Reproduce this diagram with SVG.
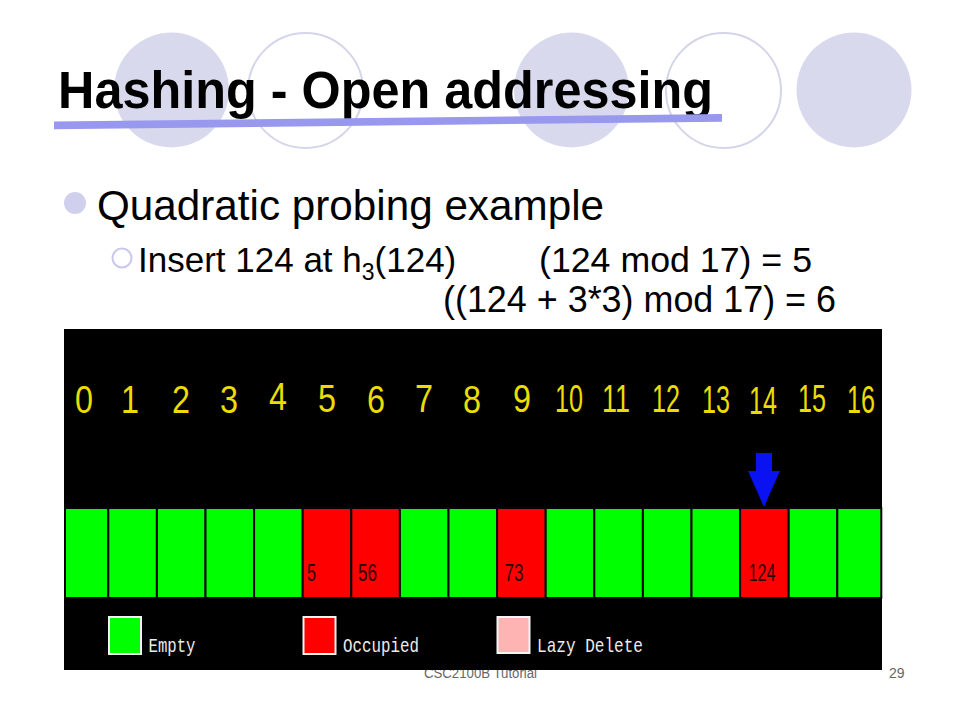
<svg xmlns="http://www.w3.org/2000/svg" width="960" height="720" viewBox="0 0 960 720">
<style>
.cf{fill:#d9d9ee}
.co{fill:#ffffff;stroke:#d4d4ea;stroke-width:2}
.title{font-family:"Liberation Sans",Arial,sans-serif;font-weight:bold;font-size:51px;fill:#000}
.body{font-family:"Liberation Sans",Arial,sans-serif;fill:#000}
.idx{font-family:"Liberation Sans",Arial,sans-serif;font-size:38px;fill:#ecdc00}
.cell rect{stroke:#050505;stroke-width:2}
.g{fill:#00ff00}
.r{fill:#ff0000}
.val{font-family:"Liberation Sans",Arial,sans-serif;font-size:23px;fill:#2a0000}
.leg{font-family:"Liberation Mono","Courier New",monospace;font-size:21px;fill:#ececec}
.legbox{stroke:#f4f4f4;stroke-width:2}
.foot{font-family:"Liberation Sans",Arial,sans-serif;font-size:14px;fill:#666}
</style>
<rect x="0" y="0" width="960" height="720" fill="#ffffff"/>
<g id="decor">
<circle class="cf" cx="171.5" cy="90" r="57.5"/>
<circle class="co" cx="305.5" cy="90.5" r="57.5"/>
<circle class="cf" cx="571.5" cy="90" r="57.5"/>
<circle class="co" cx="723.5" cy="90.5" r="57.5"/>
<circle class="cf" cx="854" cy="90" r="57.5"/>
</g>
<g id="title">
<text class="title" x="58" y="108" textLength="655" lengthAdjust="spacingAndGlyphs">Hashing - Open addressing</text>
<polygon points="54,121.5 722,114 722,121.7 54,129.2" fill="#9898ee"/>
</g>
<g id="bullets">
<circle cx="75" cy="203" r="11" fill="#d0d0ee"/>
<text class="body" x="97" y="220" font-size="42" textLength="507" lengthAdjust="spacingAndGlyphs">Quadratic probing example</text>
<circle cx="122" cy="258" r="9.5" fill="none" stroke="#c8c8ec" stroke-width="2"/>
<text class="body" x="138" y="272" font-size="35">Insert 124 at h<tspan font-size="23" dy="8">3</tspan><tspan dy="-8">(124)</tspan></text>
<text class="body" x="539" y="272" font-size="35" textLength="273" lengthAdjust="spacingAndGlyphs">(124 mod 17) = 5</text>
<text class="body" x="443" y="312" font-size="36" textLength="393" lengthAdjust="spacingAndGlyphs">((124 + 3*3) mod 17) = 6</text>
</g>
<g id="footer">
<text class="foot" x="424" y="678" textLength="113" lengthAdjust="spacingAndGlyphs">CSC2100B  Tutorial</text>
<text class="foot" x="889" y="678">29</text>
</g>
<g id="panel">
<rect x="64" y="329" width="818" height="341" fill="#000000"/>
</g>
<g id="indices">
<text class="idx" x="75" y="413" textLength="18" lengthAdjust="spacingAndGlyphs">0</text>
<text class="idx" x="121" y="413" textLength="18" lengthAdjust="spacingAndGlyphs">1</text>
<text class="idx" x="172" y="413" textLength="18" lengthAdjust="spacingAndGlyphs">2</text>
<text class="idx" x="220" y="413" textLength="18" lengthAdjust="spacingAndGlyphs">3</text>
<text class="idx" x="269" y="410" textLength="18" lengthAdjust="spacingAndGlyphs">4</text>
<text class="idx" x="318" y="412" textLength="18" lengthAdjust="spacingAndGlyphs">5</text>
<text class="idx" x="367" y="413" textLength="18" lengthAdjust="spacingAndGlyphs">6</text>
<text class="idx" x="415" y="412" textLength="18" lengthAdjust="spacingAndGlyphs">7</text>
<text class="idx" x="463" y="413" textLength="18" lengthAdjust="spacingAndGlyphs">8</text>
<text class="idx" x="513" y="412" textLength="18" lengthAdjust="spacingAndGlyphs">9</text>
<text class="idx" x="555" y="412" textLength="28" lengthAdjust="spacingAndGlyphs">10</text>
<text class="idx" x="602" y="412" textLength="28" lengthAdjust="spacingAndGlyphs">11</text>
<text class="idx" x="652" y="412" textLength="28" lengthAdjust="spacingAndGlyphs">12</text>
<text class="idx" x="702" y="413" textLength="28" lengthAdjust="spacingAndGlyphs">13</text>
<text class="idx" x="749" y="414" textLength="28" lengthAdjust="spacingAndGlyphs">14</text>
<text class="idx" x="798" y="412" textLength="28" lengthAdjust="spacingAndGlyphs">15</text>
<text class="idx" x="847" y="413" textLength="28" lengthAdjust="spacingAndGlyphs">16</text>
</g>
<g id="cells">
<g id="cell0" class="cell"><rect class="g" x="65" y="508" width="43.3" height="90"/></g>
<g id="cell1" class="cell"><rect class="g" x="108.3" y="508" width="48.6" height="90"/></g>
<g id="cell2" class="cell"><rect class="g" x="156.9" y="508" width="48.6" height="90"/></g>
<g id="cell3" class="cell"><rect class="g" x="205.5" y="508" width="48.6" height="90"/></g>
<g id="cell4" class="cell"><rect class="g" x="254.1" y="508" width="48.6" height="90"/></g>
<g id="cell5" class="cell"><rect class="r" x="302.7" y="508" width="48.6" height="90"/><text class="val" x="307" y="581" textLength="9" lengthAdjust="spacingAndGlyphs">5</text></g>
<g id="cell6" class="cell"><rect class="r" x="351.3" y="508" width="48.6" height="90"/><text class="val" x="358" y="581" textLength="19" lengthAdjust="spacingAndGlyphs">56</text></g>
<g id="cell7" class="cell"><rect class="g" x="399.9" y="508" width="48.6" height="90"/></g>
<g id="cell8" class="cell"><rect class="g" x="448.5" y="508" width="48.6" height="90"/></g>
<g id="cell9" class="cell"><rect class="r" x="497.1" y="508" width="48.6" height="90"/><text class="val" x="504.5" y="581" textLength="19" lengthAdjust="spacingAndGlyphs">73</text></g>
<g id="cell10" class="cell"><rect class="g" x="545.7" y="508" width="48.6" height="90"/></g>
<g id="cell11" class="cell"><rect class="g" x="594.3" y="508" width="48.6" height="90"/></g>
<g id="cell12" class="cell"><rect class="g" x="642.9" y="508" width="48.6" height="90"/></g>
<g id="cell13" class="cell"><rect class="g" x="691.5" y="508" width="48.6" height="90"/></g>
<g id="cell14" class="cell"><rect class="r" x="740.1" y="508" width="48.6" height="90"/><text class="val" x="748.5" y="581" textLength="27" lengthAdjust="spacingAndGlyphs">124</text></g>
<g id="cell15" class="cell"><rect class="g" x="788.7" y="508" width="48.6" height="90"/></g>
<g id="cell16" class="cell"><rect class="g" x="837.3" y="508" width="44" height="90"/></g>
</g>
<g id="connectors">
<polygon points="756,453 772,453 772,471 780,471 764,507 748,471 756,471" fill="#0a12f2"/>
</g>
<g id="legend">
<g id="leg-empty"><rect class="legbox" x="109" y="617" width="32" height="37" fill="#00ff00"/><text class="leg" x="148.5" y="652" textLength="47" lengthAdjust="spacingAndGlyphs">Empty</text></g>
<g id="leg-occupied"><rect class="legbox" x="303.5" y="617" width="32" height="37" fill="#ff0000"/><text class="leg" x="343" y="652" textLength="76" lengthAdjust="spacingAndGlyphs">Occupied</text></g>
<g id="leg-lazy"><rect class="legbox" x="497.5" y="617" width="32" height="36" fill="#ffb4b4"/><text class="leg" x="537" y="652" textLength="106" lengthAdjust="spacingAndGlyphs">Lazy Delete</text></g>
</g>
</svg>
